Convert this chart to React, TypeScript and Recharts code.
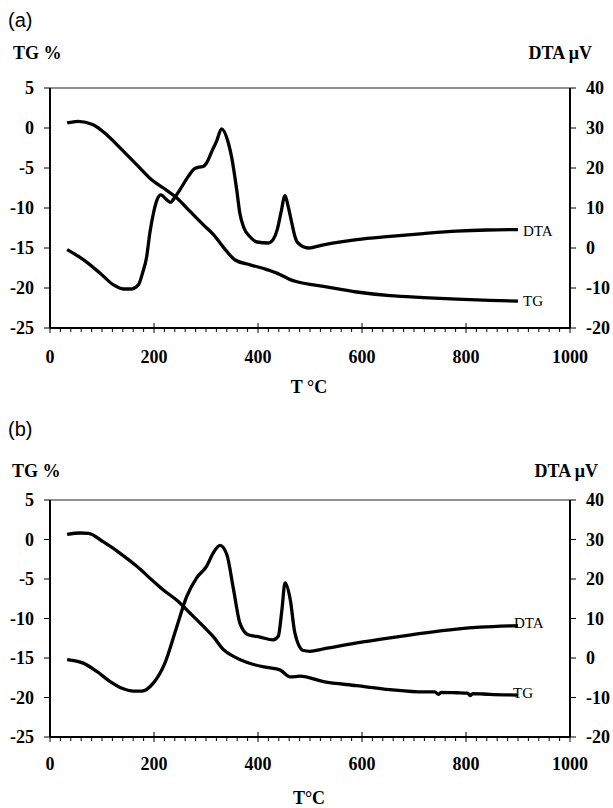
import React from 'react';
import { LineChart, Line, XAxis, YAxis, ReferenceLine } from 'recharts';

const SERIF = '"Liberation Serif", "Times New Roman", Times, serif';
const SANS = '"Liberation Sans", Arial, Helvetica, sans-serif';

// ---- axis ticks ----
const xTicks: number[] = [];
for (let v = 0; v <= 1000; v += 20) xTicks.push(v);
const tgTicks = [-25, -20, -15, -10, -5, 0, 5];
const dtaTicks = [-20, -10, 0, 10, 20, 30, 40];

// ---- panel (a) ----
const tgTempA = [33, 54, 83, 109, 141, 167, 196, 218, 244, 269, 295, 314, 337, 356, 385, 417, 442, 462, 477, 526, 590, 654, 718, 782, 846, 900];
const tgValA = [0.63, 0.83, 0.41, -0.84, -2.9, -4.6, -6.5, -7.5, -8.75, -10.4, -12.1, -13.3, -15.2, -16.5, -17.1, -17.7, -18.3, -18.95, -19.25, -19.8, -20.5, -20.96, -21.2, -21.4, -21.55, -21.65];

const dtaTempA = [33, 64, 96, 122, 141, 157, 170, 178, 186, 192, 199, 206, 213, 224, 232, 237, 250, 266, 276, 286, 295, 301, 311, 320, 330, 343, 349, 359, 365, 373, 385, 398, 420, 429, 437, 444, 452, 458, 465, 471, 477, 497, 526, 590, 654, 718, 782, 840, 900];
const dtaValA = [-0.4, -2.9, -6.25, -9.2, -10.25, -10.25, -9.2, -6.25, -2.1, 3.75, 8.75, 12.1, 13.3, 12.1, 11.4, 12.1, 14.6, 17.9, 19.6, 20.2, 20.4, 21.25, 24.1, 26.6, 29.8, 26.25, 22.9, 14.6, 8.75, 5, 2.75, 1.5, 1.25, 2.1, 4.6, 8.75, 13.1, 10.4, 6.25, 2.9, 1.25, 0, 0.8, 2.1, 2.9, 3.6, 4.2, 4.5, 4.6];

// ---- panel (b) ----
const tgTempB = [33, 58, 74, 102, 135, 167, 199, 218, 244, 269, 295, 314, 333, 353, 385, 417, 442, 462, 481, 526, 590, 654, 718, 740, 747, 752, 782, 803, 808, 813, 846, 900];
const tgValB = [0.66, 0.82, 0.78, -0.28, -1.75, -3.4, -5.3, -6.4, -7.7, -9.3, -11.0, -12.3, -13.9, -14.8, -15.7, -16.2, -16.5, -17.4, -17.3, -18.0, -18.5, -19.0, -19.3, -19.3, -19.6, -19.35, -19.4, -19.45, -19.75, -19.5, -19.6, -19.7];

const dtaTempB = [33, 64, 90, 115, 141, 160, 176, 199, 221, 244, 263, 282, 301, 314, 327, 340, 353, 365, 381, 404, 429, 439, 446, 452, 462, 471, 487, 500, 526, 590, 654, 718, 782, 827, 900];
const dtaValB = [-0.4, -1.3, -3.4, -5.9, -7.8, -8.4, -8.4, -6.3, -1.3, 8.0, 15.6, 20.3, 23.2, 26.6, 28.5, 26.2, 17.3, 8.9, 5.9, 5.3, 4.6, 5.5, 12.2, 19.0, 14.8, 6.3, 1.9, 1.7, 2.3, 3.8, 5.1, 6.3, 7.3, 7.8, 8.2];

const toRows = (ts: number[], vs: number[]) => ts.map((t, i) => ({ t, v: vs[i] }));

const XTick = (props: any) => {
  const { x, y, payload, labelDy } = props;
  const v = payload.value;
  const major = v % 200 === 0;
  return (
    <g>
      <line x1={x} x2={x} y1={major ? y - 5 : y} y2={major ? y + 5 : y + 4} stroke="#000" strokeWidth={1} />
      {major && (
        <text x={x} y={y + labelDy} textAnchor="middle" fontFamily={SERIF} fontWeight={700} fontSize={18} fill="#000">
          {v}
        </text>
      )}
    </g>
  );
};

const endLabel = (text: string, n: number, dx: number, dy: number) => (props: any) => {
  if (props.index !== n - 1) return <g key={`l-${props.index}`} />;
  return (
    <text key={`l-${props.index}`} x={props.x + dx} y={props.y + dy} dy="0.35em" fontFamily={SERIF} fontSize={15} fill="#000">
      {text}
    </text>
  );
};

type PanelProps = {
  top: number;
  height: number;
  marginTop: number;
  marginBottom: number;
  labelDy: number;
  tg: { t: number; v: number }[];
  dta: { t: number; v: number }[];
  dtaLabelDx: number;
  tgLabelDx: number;
  dtaLabelDy: number;
  tgLabelDy: number;
};

const Panel = (p: PanelProps) => (
  <div style={{ position: 'absolute', left: 0, top: p.top }}>
    <LineChart width={613} height={p.height} margin={{ top: p.marginTop, right: 0, bottom: p.marginBottom, left: 0 }}>
      <XAxis
        type="number"
        dataKey="t"
        domain={[0, 1000]}
        ticks={xTicks}
        interval={0}
        tickSize={0}
        tickMargin={0}
        tickLine={false}
        height={40}
        axisLine={{ stroke: '#000', strokeWidth: 2 }}
        tick={(tp: any) => <XTick {...tp} labelDy={p.labelDy} />}
        allowDataOverflow
      />
      <YAxis
        yAxisId="tg"
        orientation="left"
        domain={[-25, 5]}
        ticks={tgTicks}
        interval={0}
        width={50}
        tickSize={6}
        tickMargin={10}
        axisLine={{ stroke: '#000', strokeWidth: 2 }}
        tickLine={{ stroke: '#000', strokeWidth: 1 }}
        tick={{ fontFamily: SERIF, fontWeight: 700, fontSize: 18, fill: '#000' }}
        allowDataOverflow
      />
      <YAxis
        yAxisId="dta"
        orientation="right"
        domain={[-20, 40]}
        ticks={dtaTicks}
        interval={0}
        width={43}
        tickSize={6}
        tickMargin={10}
        axisLine={{ stroke: '#000', strokeWidth: 2 }}
        tickLine={{ stroke: '#000', strokeWidth: 1 }}
        tick={{ fontFamily: SERIF, fontWeight: 700, fontSize: 18, fill: '#000', textAnchor: 'start' }}
        allowDataOverflow
      />
      <ReferenceLine yAxisId="tg" y={5} stroke="#222" strokeWidth={1.2} />
      <Line
        yAxisId="tg"
        data={p.tg}
        dataKey="v"
        type="monotone"
        stroke="#000"
        strokeWidth={3.3}
        dot={false}
        isAnimationActive={false}
        label={endLabel('TG', p.tg.length, p.tgLabelDx, p.tgLabelDy)}
      />
      <Line
        yAxisId="dta"
        data={p.dta}
        dataKey="v"
        type="monotone"
        stroke="#000"
        strokeWidth={3.3}
        dot={false}
        isAnimationActive={false}
        label={endLabel('DTA', p.dta.length, p.dtaLabelDx, p.dtaLabelDy)}
      />
    </LineChart>
  </div>
);

const T = (props: { x: number; y: number; anchor?: string; bold?: boolean; sans?: boolean; size: number; children: React.ReactNode }) => (
  <text
    x={props.x}
    y={props.y}
    textAnchor={props.anchor || 'start'}
    fontFamily={props.sans ? SANS : SERIF}
    fontWeight={props.bold ? 700 : 400}
    fontSize={props.size}
    fill="#000"
  >
    {props.children}
  </text>
);

export default function App() {
  return (
    <div style={{ position: 'absolute', left: 0, top: 0, width: 613, height: 808, background: '#fff', overflow: 'hidden' }}>
      <Panel
        top={0}
        height={400}
        marginTop={88}
        marginBottom={32}
        labelDy={35}
        tg={toRows(tgTempA, tgValA)}
        dta={toRows(dtaTempA, dtaValA)}
        dtaLabelDx={5}
        tgLabelDx={5}
        dtaLabelDy={1}
        tgLabelDy={0}
      />
      <Panel
        top={400}
        height={408}
        marginTop={100}
        marginBottom={31}
        labelDy={33}
        tg={toRows(tgTempB, tgValB)}
        dta={toRows(dtaTempB, dtaValB)}
        dtaLabelDx={-4}
        tgLabelDx={-5}
        dtaLabelDy={-3}
        tgLabelDy={-2}
      />
      <svg width={613} height={808} style={{ position: 'absolute', left: 0, top: 0, pointerEvents: 'none' }}>
        <T x={8} y={27} sans size={20}>(a)</T>
        <T x={13} y={59} bold size={18}>TG %</T>
        <T x={592} y={59} anchor="end" bold size={18}>DTA μV</T>
        <T x={309} y={393} anchor="middle" bold size={18}>T °C</T>
        <T x={8} y={436} sans size={20}>(b)</T>
        <T x={12} y={477} bold size={18}>TG %</T>
        <T x={598} y={477} anchor="end" bold size={18}>DTA μV</T>
        <T x={309} y={804} anchor="middle" bold size={18}>T°C</T>
      </svg>
    </div>
  );
}
